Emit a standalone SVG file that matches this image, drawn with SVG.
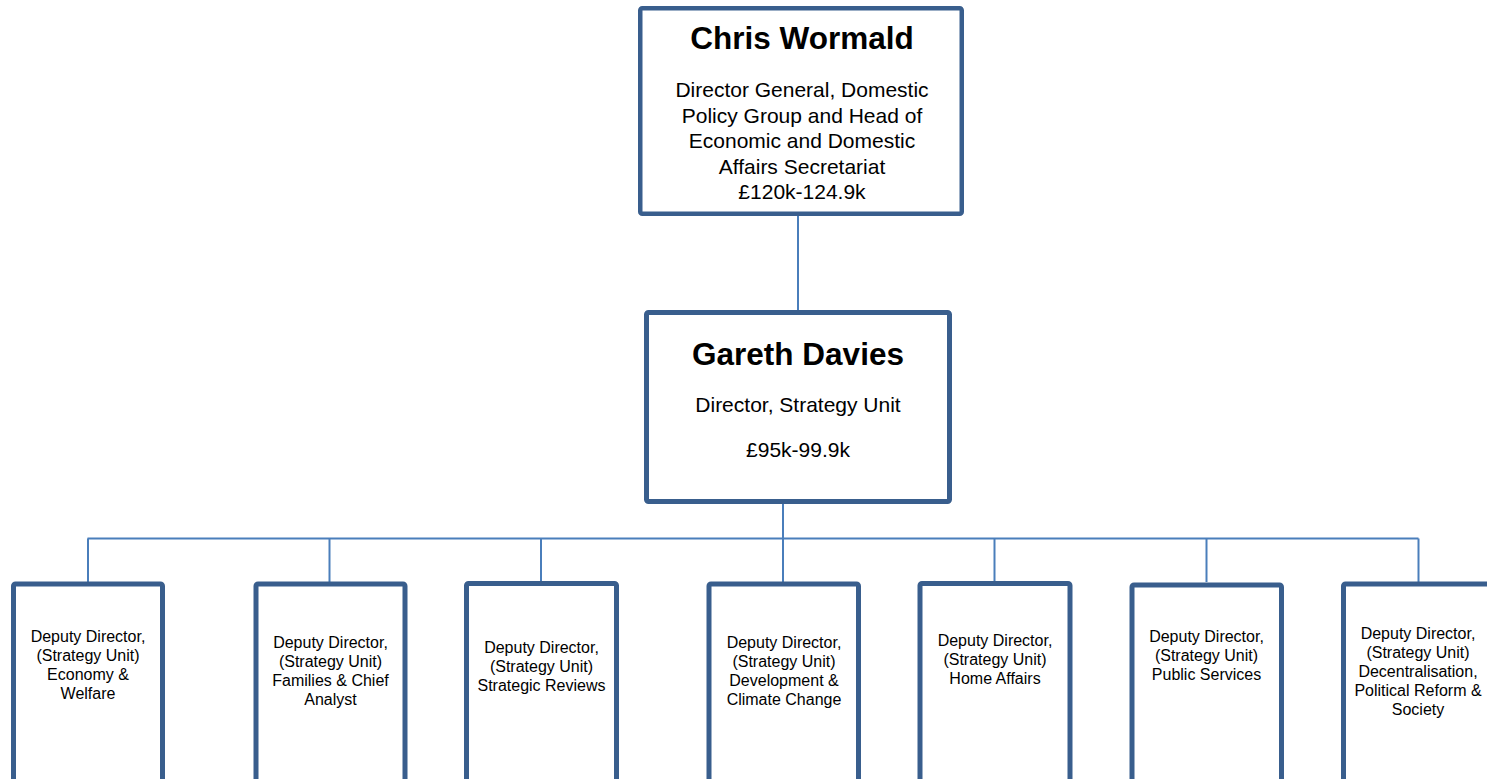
<svg xmlns="http://www.w3.org/2000/svg" width="1487" height="779" viewBox="0 0 1487 779">
  <style>
    .box { fill: #ffffff; stroke: #395E8D; }
    .big { stroke-width: 4.5; }
    .small { stroke-width: 5; }
    .link { fill: none; stroke: #4A7EBB; stroke-width: 2; }
    text { font-family: "Liberation Sans", Arial, sans-serif; fill: #000000; text-anchor: middle; }
    .name { font-size: 31.5px; font-weight: bold; }
    .role { font-size: 21px; }
    .dep { font-size: 16px; }
  </style>
  <rect width="1487" height="779" fill="#ffffff"/>

  <!-- reporting lines -->
  <g id="connectors">
    <line class="link" x1="798" y1="216" x2="798" y2="310"/>
    <line class="link" x1="783" y1="504" x2="783" y2="582"/>
    <line class="link" x1="87.5" y1="538.5" x2="1418.5" y2="538.5"/>
    <line class="link" x1="88" y1="538.5" x2="88" y2="582"/>
    <line class="link" x1="329.5" y1="538.5" x2="329.5" y2="582"/>
    <line class="link" x1="541" y1="538.5" x2="541" y2="582"/>
    <line class="link" x1="994.5" y1="538.5" x2="994.5" y2="582"/>
    <line class="link" x1="1206.5" y1="538.5" x2="1206.5" y2="582"/>
    <line class="link" x1="1418.5" y1="538.5" x2="1418.5" y2="582"/>
  </g>

  <g id="chris-wormald">
    <rect class="box big" x="640.25" y="8.25" width="321.5" height="205.5" rx="2"/>
    <text class="name" x="802" y="48.5">Chris Wormald</text>
    <text class="role" x="802" y="97">Director General, Domestic</text>
    <text class="role" x="802" y="122.6">Policy Group and Head of</text>
    <text class="role" x="802" y="148.2">Economic and Domestic</text>
    <text class="role" x="802" y="173.8">Affairs Secretariat</text>
    <text class="role" x="802" y="199.4">£120k-124.9k</text>
  </g>

  <g id="gareth-davies">
    <rect class="box small" x="646.5" y="312.5" width="303" height="189" rx="2"/>
    <text class="name" x="798" y="365">Gareth Davies</text>
    <text class="role" x="798" y="412">Director, Strategy Unit</text>
    <text class="role" x="798" y="457">£95k-99.9k</text>
  </g>

  <g id="dd-economy-welfare">
    <rect class="box small" x="13.5" y="584" width="149" height="210" rx="2"/>
    <text class="dep" x="88" y="642">Deputy Director,</text>
    <text class="dep" x="88" y="661">(Strategy Unit)</text>
    <text class="dep" x="88" y="680">Economy &amp;</text>
    <text class="dep" x="88" y="699">Welfare</text>
  </g>

  <g id="dd-families-chief-analyst">
    <rect class="box small" x="256" y="584" width="149" height="210" rx="2"/>
    <text class="dep" x="330.5" y="648">Deputy Director,</text>
    <text class="dep" x="330.5" y="667">(Strategy Unit)</text>
    <text class="dep" x="330.5" y="686">Families &amp; Chief</text>
    <text class="dep" x="330.5" y="705">Analyst</text>
  </g>

  <g id="dd-strategic-reviews">
    <rect class="box small" x="466.5" y="583.5" width="150" height="210" rx="2"/>
    <text class="dep" x="541.5" y="653">Deputy Director,</text>
    <text class="dep" x="541.5" y="672">(Strategy Unit)</text>
    <text class="dep" x="541.5" y="691">Strategic Reviews</text>
  </g>

  <g id="dd-development-climate">
    <rect class="box small" x="709" y="584" width="149.5" height="210" rx="2"/>
    <text class="dep" x="784" y="648">Deputy Director,</text>
    <text class="dep" x="784" y="667">(Strategy Unit)</text>
    <text class="dep" x="784" y="686">Development &amp;</text>
    <text class="dep" x="784" y="705">Climate Change</text>
  </g>

  <g id="dd-home-affairs">
    <rect class="box small" x="920" y="583.5" width="150" height="210" rx="2"/>
    <text class="dep" x="995" y="646">Deputy Director,</text>
    <text class="dep" x="995" y="665">(Strategy Unit)</text>
    <text class="dep" x="995" y="684">Home Affairs</text>
  </g>

  <g id="dd-public-services">
    <rect class="box small" x="1132" y="585" width="149.5" height="210" rx="2"/>
    <text class="dep" x="1206.5" y="642">Deputy Director,</text>
    <text class="dep" x="1206.5" y="661">(Strategy Unit)</text>
    <text class="dep" x="1206.5" y="680">Public Services</text>
  </g>

  <g id="dd-decentralisation">
    <rect class="box small" x="1343.5" y="584" width="150" height="210" rx="2"/>
    <text class="dep" x="1418" y="639">Deputy Director,</text>
    <text class="dep" x="1418" y="658">(Strategy Unit)</text>
    <text class="dep" x="1418" y="677">Decentralisation,</text>
    <text class="dep" x="1418" y="696">Political Reform &amp;</text>
    <text class="dep" x="1418" y="715">Society</text>
  </g>
</svg>
